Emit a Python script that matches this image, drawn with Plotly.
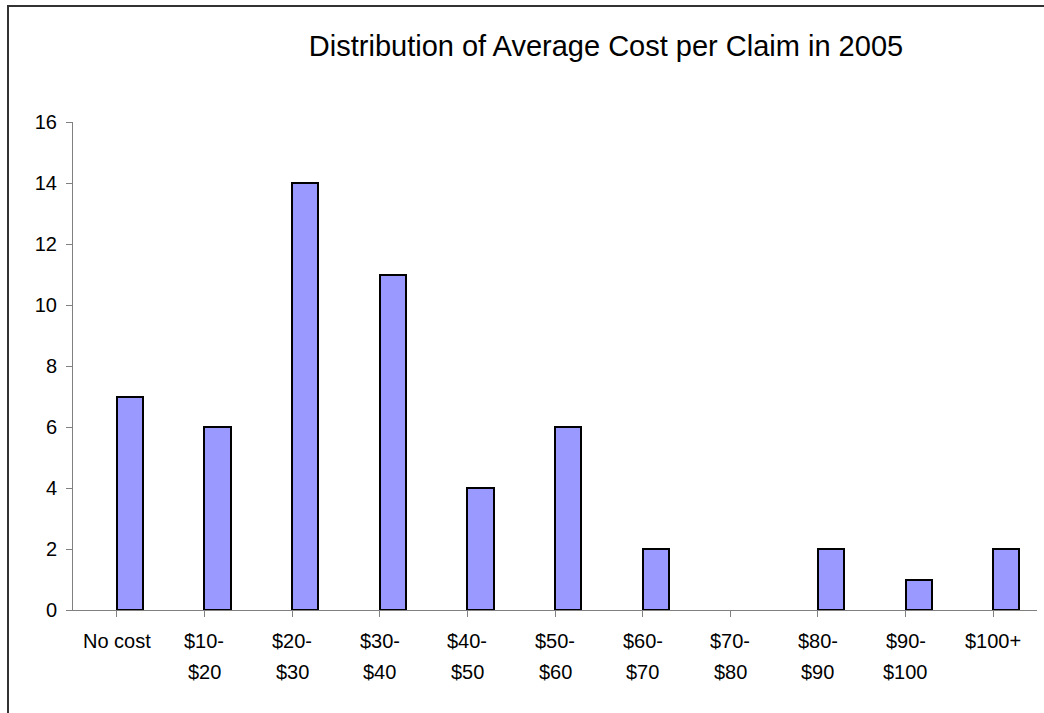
import plotly.graph_objects as go

categories = ["No cost", "$10-\n$20", "$20-\n$30", "$30-\n$40", "$40-\n$50",
              "$50-\n$60", "$60-\n$70", "$70-\n$80", "$80-\n$90", "$90-\n$100", "$100+"]
counts = [7, 6, 14, 11, 4, 6, 2, 0, 2, 1, 2]
y_ticks = [0, 2, 4, 6, 8, 10, 12, 14, 16]
title_text = "Distribution of Average Cost per Claim in 2005"

FONT = "Liberation Sans, Arial, sans-serif"
TICK_SIZE = 20

fig = go.Figure()
fig.add_trace(go.Bar(
    x=list(range(len(categories))),
    y=[v if v else None for v in counts],
    width=0.3, offset=0,
    marker=dict(color="#9999FF", line=dict(color="#000000", width=2)),
    customdata=counts,
    hovertemplate="%{customdata}<extra></extra>",
))

fig.update_layout(
    width=1044, height=713,
    margin=dict(l=73, r=7, t=122, b=103, pad=0),
    paper_bgcolor="white", plot_bgcolor="white",
    showlegend=False,
    font=dict(family=FONT, size=TICK_SIZE, color="#000000"),
    title=dict(text=title_text, x=606/1044, xanchor="center", y=1-46/713, yanchor="middle",
               font=dict(family=FONT, size=29, color="#000000")),
    bargap=0,
)
fig.update_xaxes(
    tickmode="array", tickvals=list(range(len(categories))),
    ticktext=[""] * len(categories),
    range=[-0.5, len(categories) - 0.5],
    tickson="boundaries", ticks="outside", ticklen=6, tickcolor="#808080", tickwidth=1,
    showline=True, linecolor="#808080", linewidth=1,
    showgrid=False, zeroline=False,
)
fig.update_yaxes(
    range=[0, 16], tickvals=y_ticks, ticks="outside", ticklen=6, tickcolor="#808080",
    showline=True, linecolor="#808080", linewidth=1,
    showgrid=False, zeroline=False, ticklabelstandoff=5,
    tickfont=dict(family=FONT, size=TICK_SIZE, color="#000000"),
)

# category labels (two lines, with the wider line spacing of the original)
line_y = [641, 672]
for i, lab in enumerate(categories):
    for j, part in enumerate(lab.split("\n")):
        fig.add_annotation(x=i, xref="x", y=(610 - line_y[j]) / 488, yref="paper",
                           text=part, showarrow=False, xanchor="center", yanchor="middle",
                           font=dict(family=FONT, size=TICK_SIZE, color="#000000"))

fig.add_shape(type="rect", xref="paper", yref="paper",
              x0=(8 - 73) / 964, x1=(1060 - 73) / 964,
              y0=(610 - 760) / 488, y1=(610 - 6) / 488,
              line=dict(color="#333333", width=2), fillcolor="rgba(0,0,0,0)", layer="below")

fig.write_html("out.html")
